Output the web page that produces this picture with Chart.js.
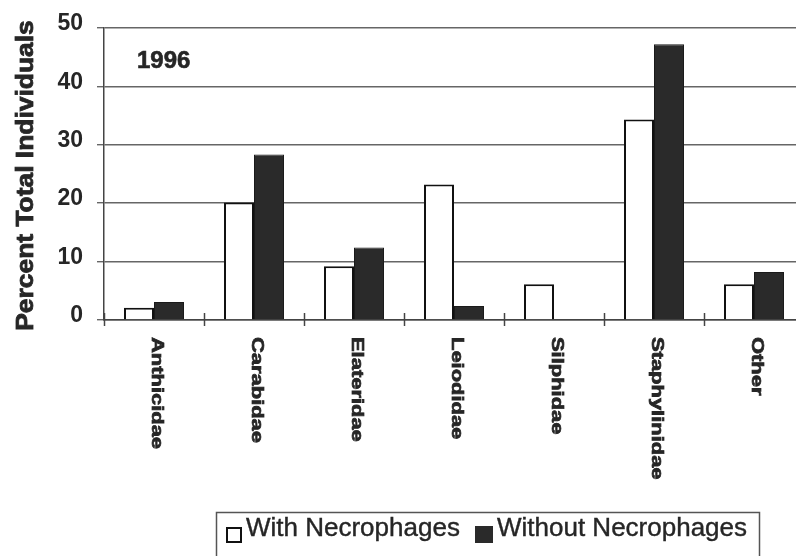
<!DOCTYPE html>
<html><head><meta charset="utf-8">
<script src="https://cdn.jsdelivr.net/npm/chart.js@4.4.1/dist/chart.umd.min.js"></script>
<style>html,body{margin:0;padding:0;background:#fff;overflow:hidden;width:796px;height:556px}canvas{display:block}</style>
</head><body><canvas id="c" width="810" height="556"></canvas>
<script>
const categories = ['Anthicidae', 'Carabidae', 'Elateridae', 'Leiodidae', 'Silphidae', 'Staphylinidae', 'Other'];
const withNecrophages = [2.1, 20.1, 9.2, 23.2, 6.1, 34.3, 6.1];
const withoutNecrophages = [3.1, 28.3, 12.4, 2.4, 0, 47.2, 8.2];
const yTicks = [0, 10, 20, 30, 40, 50];
const seriesNames = ['With Necrophages', 'Without Necrophages'];
const yTitle = 'Percent Total Individuals';
const yearLabel = '1996';

const FONT = '"Liberation Sans", Arial, Helvetica, sans-serif';
const INK = '#262626';
const DARK = '#2a2a2a';

function heavyText(ctx, text, x, y, w) {
  ctx.fillText(text, x, y);
  ctx.lineWidth = w;
  ctx.strokeStyle = ctx.fillStyle;
  ctx.strokeText(text, x, y);
}

const deco = {
  id: 'deco',
  afterDraw(chart) {
    const {ctx, chartArea, scales: {x, y}} = chart;
    ctx.save();
    // category boundary ticks crossing the axis
    ctx.strokeStyle = '#444';
    ctx.lineWidth = 1.5;
    for (let i = 0; i <= categories.length; i++) {
      const px = Math.round(x.getPixelForValue(i - 0.5)) + 0.5;
      ctx.beginPath();
      ctx.moveTo(px, chartArea.bottom - 7);
      ctx.lineTo(px, chartArea.bottom + 6);
      ctx.stroke();
    }
    // rotated category labels (reading top to bottom)
    ctx.fillStyle = INK;
    ctx.font = 'bold 16px ' + FONT;
    ctx.textAlign = 'left';
    ctx.textBaseline = 'alphabetic';
    categories.forEach((c, i) => {
      const px = x.getPixelForValue(i);
      ctx.save();
      ctx.translate(px - 2, chartArea.bottom + 17);
      ctx.rotate(Math.PI / 2);
      ctx.scale(1.37, 1);
      heavyText(ctx, c, 0, 0, 0.7);
      ctx.restore();
    });
    // y axis title
    ctx.font = 'bold 24px ' + FONT;
    ctx.textAlign = 'center';
    ctx.save();
    ctx.translate(32.5, 175.5);
    ctx.rotate(-Math.PI / 2);
    ctx.scale(1.1, 1);
    heavyText(ctx, yTitle, 0, 0, 0.8);
    ctx.restore();
    // year label
    ctx.font = 'bold 24px ' + FONT;
    ctx.textAlign = 'left';
    heavyText(ctx, yearLabel, 137, 68, 0.6);
    // legend
    ctx.strokeStyle = '#555';
    ctx.lineWidth = 1.5;
    ctx.strokeRect(216.5, 512.5, 543, 60);
    ctx.lineWidth = 2;
    ctx.strokeStyle = '#111';
    ctx.fillStyle = '#fff';
    ctx.fillRect(226, 527, 16, 16);
    ctx.strokeRect(227, 528, 14, 14);
    ctx.fillStyle = DARK;
    ctx.fillRect(475, 526, 18, 17);
    ctx.font = '26px ' + FONT;
    ctx.fillStyle = INK;
    heavyText(ctx, seriesNames[0], 246, 536, 0.4);
    heavyText(ctx, seriesNames[1], 497, 536, 0.4);
    ctx.restore();
  }
};

new Chart(document.getElementById('c'), {
  type: 'bar',
  data: {
    labels: categories,
    datasets: [
      {label: seriesNames[0], data: withNecrophages, backgroundColor: '#ffffff', borderColor: '#111', borderWidth: 2,
       categoryPercentage: 0.6, barPercentage: 1.0},
      {label: seriesNames[1], data: withoutNecrophages, backgroundColor: DARK, borderColor: '#1a1a1a',
       borderWidth: ctx => (ctx.raw ? 1 : 0), categoryPercentage: 0.6, barPercentage: 1.0}
    ]
  },
  options: {
    responsive: false,
    animation: false,
    devicePixelRatio: 1,
    layout: {padding: {top: 25, right: 6, left: 0, bottom: 0}},
    plugins: {legend: {display: false}, tooltip: {enabled: false}},
    scales: {
      x: {
        grid: {display: false},
        border: {display: true, color: '#444', width: 1.5},
        ticks: {display: false},
        afterFit: s => { s.height = 236; }
      },
      y: {
        min: 0, max: 50,
        afterBuildTicks: s => { s.ticks = yTicks.map(v => ({value: v})); },
        grid: {color: '#666', lineWidth: 1.4, tickLength: 7, drawTicks: true},
        border: {display: true, color: '#444', width: 1.5},
        ticks: {color: INK, font: {family: FONT, size: 23, weight: 'bold'}, padding: 14, labelOffset: -4},
        afterFit: s => { s.width = 104; }
      }
    }
  },
  plugins: [deco]
});
</script>
</body></html>
